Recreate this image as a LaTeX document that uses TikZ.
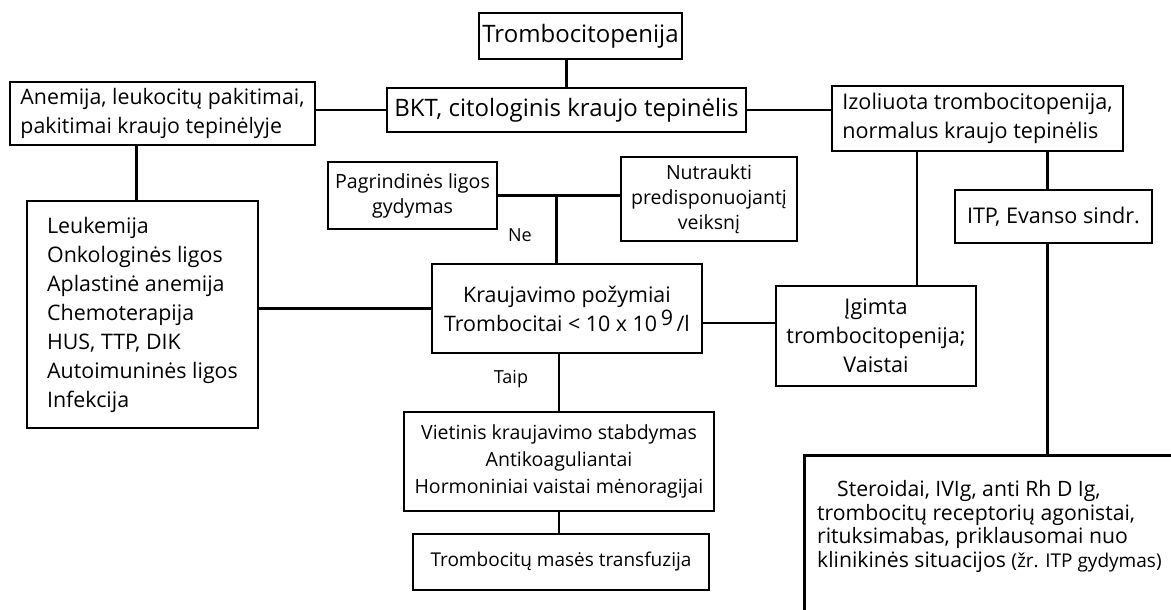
\documentclass[tikz,border=0pt]{standalone}
\usepackage{fontspec}
\setmainfont{Open Sans}
\usetikzlibrary{calc}
\newcommand{\fs}[2]{\fontsize{#1pt}{#2pt}\selectfont}
\tikzset{
  box/.style={draw, line width=2.6pt, inner sep=0pt, align=center},
  link/.style={line width=2.2pt},
  lbl/.style={inner sep=0pt, font=\fs{18}{22}},
}
\begin{document}
\begin{tikzpicture}[x=1pt, y=-1pt]
\useasboundingbox (0,0) rectangle (1171,610);
\fill[white] (0,0) rectangle (1171,610);

% top of the chart
\node[box, minimum width=203pt, minimum height=46pt, font=\fs{24}{29}] (trom) at (580.5,36) {Trombocitopenija};
\node[box, minimum width=359pt, minimum height=44pt, font=\fs{24}{29}] (bkt) at (566.5,110) {BKT, citologinis kraujo tepinėlis};

% left branch
\node[box, minimum width=305pt, minimum height=63pt, align=left, font=\fs{21.3}{29}] (anem) at (162.5,113.5)
  {Anemija, leukocitų pakitimai,\\pakitimai kraujo tepinėlyje};
\node[box, minimum width=231pt, minimum height=227pt, align=left, font=\fs{21.4}{29}] (leuk) at (142.5,314.5)
  {Leukemija\\Onkologinės ligos\\Aplastinė anemija\\Chemoterapija\\HUS, TTP, DIK\\Autoimuninės ligos\\Infekcija};

% right branch
\node[box, minimum width=291pt, minimum height=65pt, align=left, font=\fs{21.6}{29}] (izol) at (977.5,118.5)
  {Izoliuota trombocitopenija,\\normalus kraujo tepinėlis};
\node[box, minimum width=197pt, minimum height=53pt, font=\fs{21.6}{26}] (itp) at (1053.5,216.5) {ITP, Evanso sindr.};
\node[box, minimum width=200pt, minimum height=100pt, font=\fs{21.6}{29}] (igim) at (876,336)
  {Įgimta\\trombocitopenija;\\Vaistai};

% middle branch
\node[box, minimum width=169pt, minimum height=67pt, font=\fs{19.6}{25}] (pagr) at (412.5,195.5)
  {Pagrindinės ligos\\gydymas};
\node[box, minimum width=176pt, minimum height=84pt, font=\fs{19.5}{25}] (nutr) at (709,199)
  {Nutraukti\\predisponuojantį\\veiksnį};
\node[box, minimum width=270pt, minimum height=89pt, font=\fs{21.4}{29}] (kraj) at (567,308.5)
  {Kraujavimo požymiai\\Trombocitai < 10 x 10\,\raisebox{0.5ex}{9}\,/l};
\node[box, minimum width=310pt, minimum height=99pt, font=\fs{19.5}{27}] (viet) at (559,461.5)
  {Vietinis kraujavimo stabdymas\\Antikoaguliantai\\Hormoniniai vaistai mėnoragijai};
\node[box, minimum width=296pt, minimum height=56pt, font=\fs{19}{24}] (tran) at (561,562)
  {Trombocitų masės transfuzija};

% treatment box running off the page
\node[box, anchor=north west, minimum width=420pt, minimum height=220pt] (ster) at (803,454) {};
\node[anchor=north west, inner sep=0pt, align=left, font=\fs{21.2}{23.8}] (stertxt) at (817,480)
  {\hspace{20pt}Steroidai, IVIg, anti Rh D Ig,\\trombocitų receptorių agonistai,\\rituksimabas, priklausomai nuo\\klinikinės situacijos {\fs{19}{23.8}(žr. ITP gydymas)}};

% connectors
\draw[link] (bkt.north) -- (bkt.north |- trom.south);
\draw[link] (bkt.west) -- (bkt.west -| anem.east);
\draw[link] (bkt.east) -- (bkt.east -| izol.west);
\draw[link] ([xshift=-6pt]leuk.north) -- ([xshift=-6pt]leuk.north |- anem.south);
\draw[link] (kraj.west) -- (kraj.west -| leuk.east);
\draw[link] (pagr.east) -- (pagr.east -| nutr.west);
\coordinate (ne) at ($(pagr.east)!0.48!(nutr.west)$);
\draw[link] (ne) -- (ne |- kraj.north);
\draw[link] (viet.north) -- (viet.north |- kraj.south);
\draw[link] (viet.south) -- (viet.south |- tran.north);
\coordinate (ke) at ($(kraj.north east)!0.66!(kraj.south east)$);
\draw[link] (ke) -- (ke -| igim.west);
\coordinate (iz) at ($(izol.south west)!0.295!(izol.south east)$);
\draw[link] (iz) -- (iz |- igim.north);
\draw[link] ([xshift=-6pt]itp.north) -- ([xshift=-6pt]itp.north |- izol.south);
\draw[link] ([xshift=-6pt]itp.south) -- ([xshift=-6pt]itp.south |- ster.north);

% branch labels
\node[lbl] (ne-lbl) at (520,235) {Ne};
\node[lbl] (taip-lbl) at (511,379) {Taip};
\end{tikzpicture}
\end{document}
